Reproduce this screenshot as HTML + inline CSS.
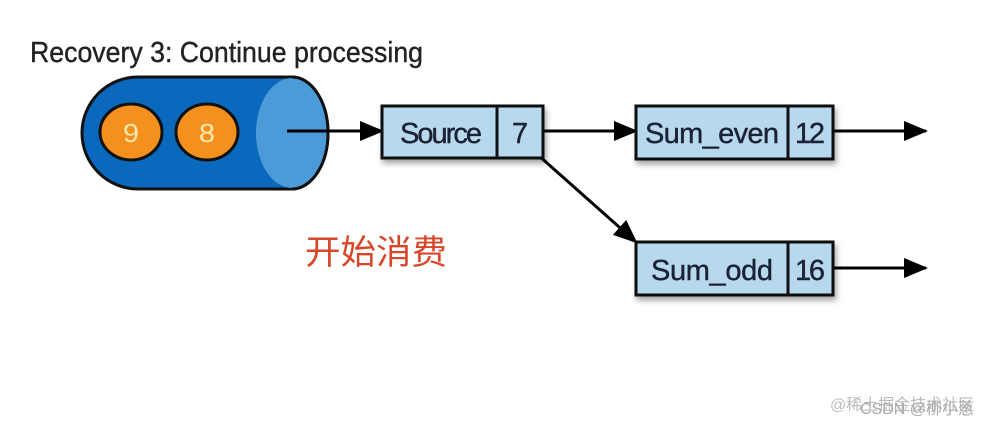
<!DOCTYPE html>
<html><head><style>
html,body{margin:0;padding:0;background:#fff;}
body{width:1006px;height:426px;overflow:hidden;position:relative;}
</style></head><body>
<svg width="1006" height="426" viewBox="0 0 1006 426" xmlns="http://www.w3.org/2000/svg" style="position:absolute;left:0;top:0">
<defs>
<marker id="ah" markerWidth="24" markerHeight="20" refX="22" refY="10" orient="auto" markerUnits="userSpaceOnUse">
<path d="M0,0 L24,10 L0,20 z" fill="#000"/>
</marker>
<filter id="sh" x="-10%" y="-10%" width="130%" height="140%"><feDropShadow dx="2" dy="4" stdDeviation="3" flood-color="#000" flood-opacity="0.35"/></filter>
</defs>
<text x="30" y="62" font-family="Liberation Sans, sans-serif" font-size="29" fill="#222" stroke="#222" stroke-width="0.4" textLength="393" lengthAdjust="spacingAndGlyphs">Recovery 3: Continue processing</text>
<!-- cylinder -->
<path d="M138,77 L292,77 A36,56 0 0 1 292,189 L138,189 A56,56 0 0 1 138,77 z" fill="#0a68bd" stroke="#111" stroke-width="3"/>
<path d="M292,78 A36,55 0 0 1 292,188 A36,55 0 0 1 292,78 z" fill="#4b9bd8"/>
<path d="M292,77 A36,56 0 0 1 292,189" fill="none" stroke="#111" stroke-width="3"/>
<ellipse cx="131" cy="132" rx="31" ry="28" fill="#f4911e" stroke="#111" stroke-width="3"/>
<ellipse cx="207" cy="132" rx="31" ry="28" fill="#f4911e" stroke="#111" stroke-width="3"/>
<text x="131" y="142" text-anchor="middle" font-family="Liberation Sans, sans-serif" font-size="26" fill="#fbe9b0" textLength="16" lengthAdjust="spacingAndGlyphs">9</text>
<text x="207" y="142" text-anchor="middle" font-family="Liberation Sans, sans-serif" font-size="26" fill="#fbe9b0" textLength="16" lengthAdjust="spacingAndGlyphs">8</text>
<!-- arrows -->
<g stroke="#000" stroke-width="3" fill="none">
<line x1="287" y1="131" x2="382" y2="131" marker-end="url(#ah)"/>
<line x1="543" y1="131" x2="636" y2="131" marker-end="url(#ah)"/>
<line x1="538" y1="155" x2="636" y2="242" marker-end="url(#ah)"/>
<line x1="834" y1="131" x2="926" y2="131" marker-end="url(#ah)"/>
<line x1="834" y1="268" x2="926" y2="268" marker-end="url(#ah)"/>
</g>
<!-- boxes -->
<g filter="url(#sh)" fill="#b8d8ee" stroke="#111" stroke-width="3">
<rect x="382" y="106" width="161" height="52"/>
<rect x="636" y="106" width="197" height="53"/>
<rect x="636" y="242" width="197" height="53"/>
</g>
<g stroke="#111" stroke-width="3">
<line x1="497" y1="106" x2="497" y2="158"/>
<line x1="788" y1="106" x2="788" y2="159"/>
<line x1="788" y1="242" x2="788" y2="295"/>
</g>
<g font-family="Liberation Sans, sans-serif" font-size="29" fill="#1a2233" stroke="#1a2233" stroke-width="0.4" lengthAdjust="spacingAndGlyphs">
<text x="400" y="143" textLength="82">Source</text>
<text x="512" y="143" textLength="14">7</text>
<text x="645" y="143" textLength="134">Sum_even</text>
<text x="795" y="143" textLength="30">12</text>
<text x="651" y="280" textLength="122">Sum_odd</text>
<text x="795" y="280" textLength="30">16</text>
</g>
<text x="305" y="264" font-family="Liberation Sans, Noto Sans CJK SC, sans-serif" font-size="34" fill="#d9472b" textLength="142" lengthAdjust="spacingAndGlyphs">开始消费</text>
<text x="830" y="410" font-family="Liberation Sans, Noto Sans CJK SC, sans-serif" font-size="16" fill="#bbb">@稀土掘金技术社区</text>
<text x="860" y="414" font-family="Liberation Sans, Noto Sans CJK SC, sans-serif" font-size="16" fill="#aaa">CSDN @柳小葱</text>
</svg>
</body></html>
